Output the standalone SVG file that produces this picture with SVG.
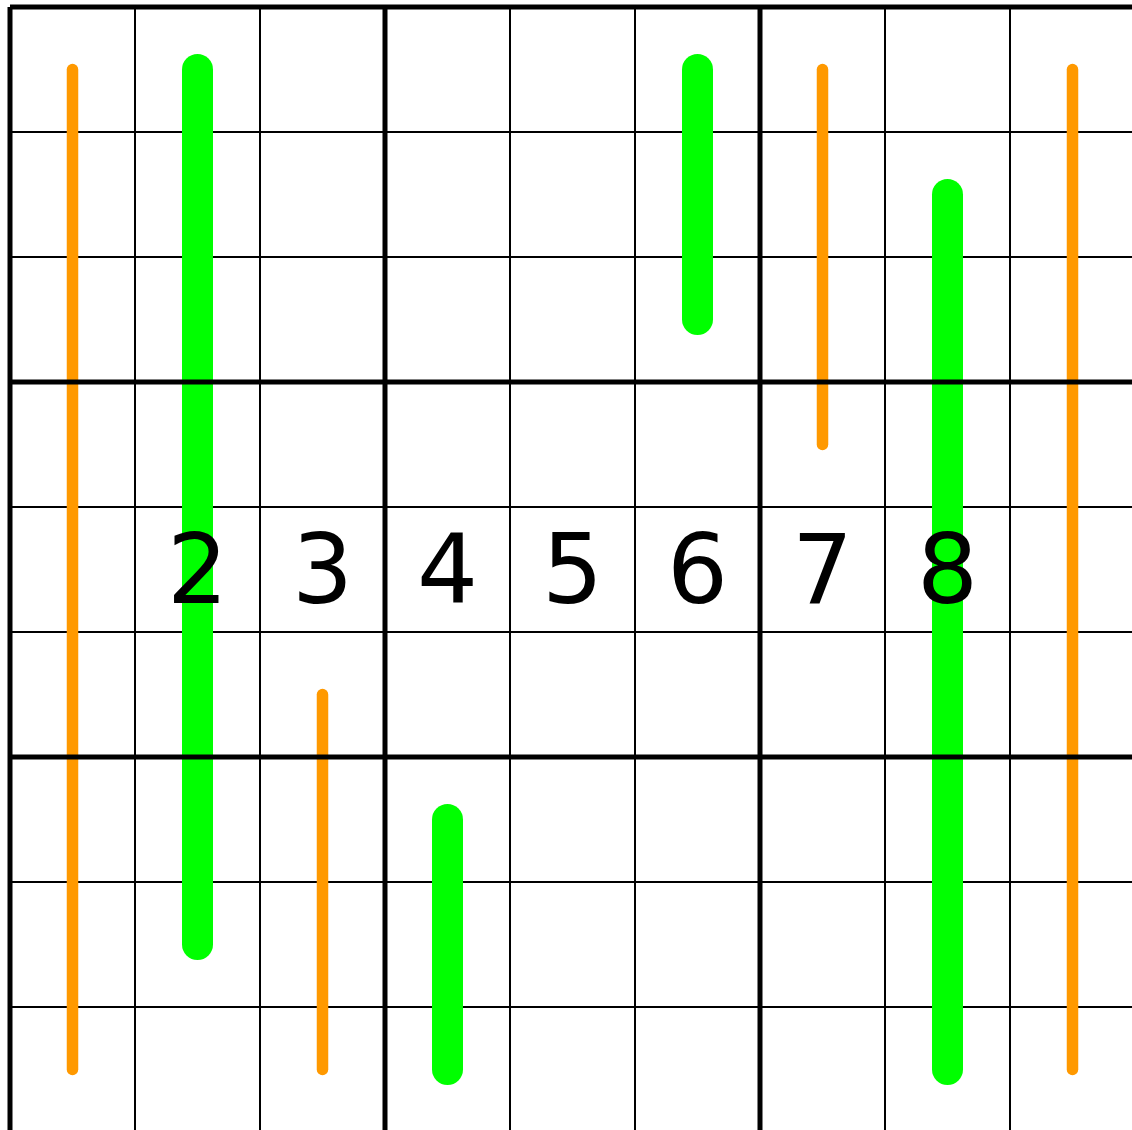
<svg xmlns="http://www.w3.org/2000/svg" width="1132" height="1130" viewBox="0 0 1132 1130">
<style>
.thin{stroke:#000;stroke-width:2;fill:none}
.thick{stroke:#000;stroke-width:5;fill:none}
.orange{stroke:#FF9900;stroke-width:11.5;stroke-linecap:round;fill:none}
.green{stroke:#00FF00;stroke-width:31;stroke-linecap:round;fill:none}
.num{font-family:"DejaVu Sans",sans-serif;font-size:96px;fill:#000;text-anchor:middle}
</style>
<rect x="0" y="0" width="1132" height="1130" fill="#fff"/>
<g id="grid-thin">
<path class="thin" d="M135 7V1135M260 7V1135M510 7V1135M635 7V1135M885 7V1135M1010 7V1135M10 132H1135M10 257H1135M10 507H1135M10 632H1135M10 882H1135M10 1007H1135M10 1132H1135"/>
</g>
<g id="lines">
<line class="orange" x1="72.5" y1="69.5" x2="72.5" y2="1069.5"/>
<line class="orange" x1="322.5" y1="694.5" x2="322.5" y2="1069.5"/>
<line class="orange" x1="822.5" y1="69.5" x2="822.5" y2="444.5"/>
<line class="orange" x1="1072.5" y1="69.5" x2="1072.5" y2="1069.5"/>
<line class="green" x1="197.5" y1="69.5" x2="197.5" y2="944.5"/>
<line class="green" x1="447.5" y1="819.5" x2="447.5" y2="1069.5"/>
<line class="green" x1="697.5" y1="69.5" x2="697.5" y2="319.5"/>
<line class="green" x1="947.5" y1="194.5" x2="947.5" y2="1069.5"/>
</g>
<g id="grid-thick">
<path class="thick" d="M10 7V1135M385 7V1135M760 7V1135M10 7H1135M10 382H1135M10 757H1135"/>
</g>
<g id="digits">
<text class="num" x="197.5" y="603">2</text>
<text class="num" x="322.5" y="603">3</text>
<text class="num" x="447.5" y="603">4</text>
<text class="num" x="572.5" y="603">5</text>
<text class="num" x="697.5" y="603">6</text>
<text class="num" x="822.5" y="603">7</text>
<text class="num" x="947.5" y="603">8</text>
</g>
</svg>
